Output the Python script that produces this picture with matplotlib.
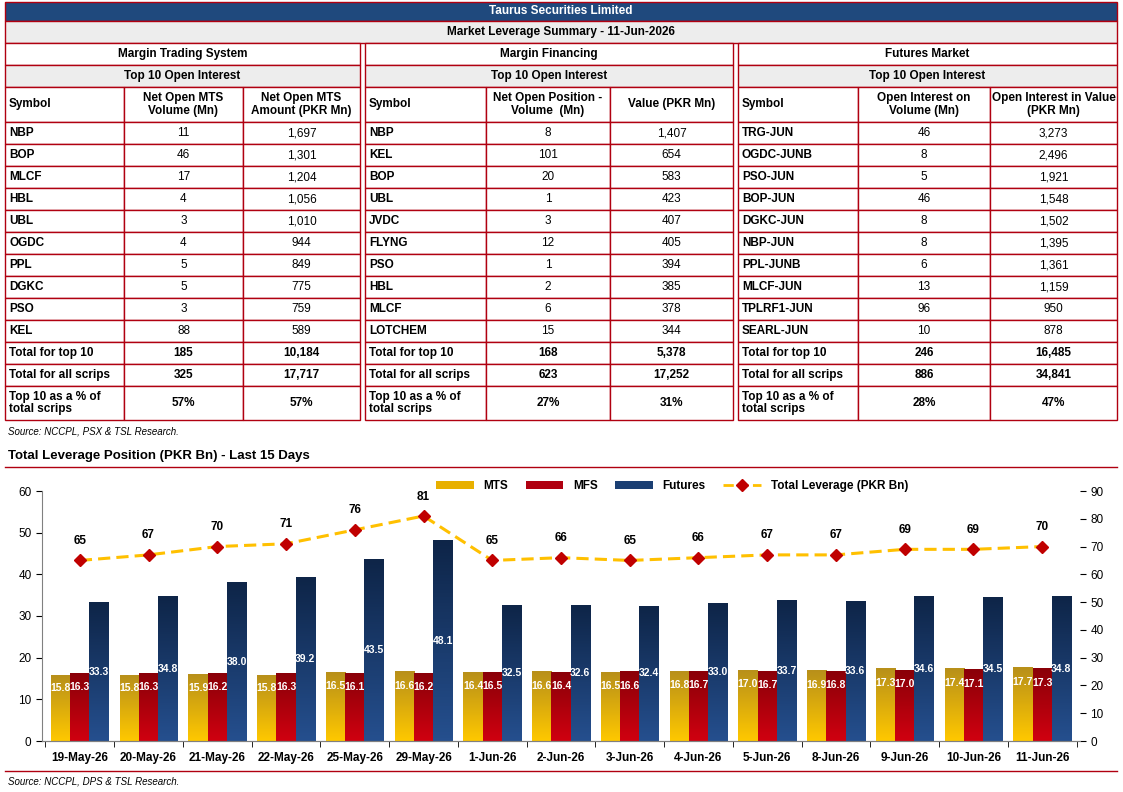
import numpy as np
import matplotlib.pyplot as plt
from matplotlib.patches import Rectangle
from matplotlib.colors import LinearSegmentedColormap
from matplotlib.lines import Line2D

plt.rcParams['font.family'] = ['Liberation Sans', 'DejaVu Sans']

# ---- table data ----
mts_sym = ["NBP", "BOP", "MLCF", "HBL", "UBL", "OGDC", "PPL", "DGKC", "PSO", "KEL"]
mts_vol = ["11", "46", "17", "4", "3", "4", "5", "5", "3", "88"]
mts_amt = ["1,697", "1,301", "1,204", "1,056", "1,010", "944", "849", "775", "759", "589"]
mts_tot = [["185", "10,184"], ["325", "17,717"], ["57%", "57%"]]

mf_sym = ["NBP", "KEL", "BOP", "UBL", "JVDC", "FLYNG", "PSO", "HBL", "MLCF", "LOTCHEM"]
mf_vol = ["8", "101", "20", "1", "3", "12", "1", "2", "6", "15"]
mf_val = ["1,407", "654", "583", "423", "407", "405", "394", "385", "378", "344"]
mf_tot = [["168", "5,378"], ["623", "17,252"], ["27%", "31%"]]

fut_sym = ["TRG-JUN", "OGDC-JUNB", "PSO-JUN", "BOP-JUN", "DGKC-JUN", "NBP-JUN", "PPL-JUNB",
           "MLCF-JUN", "TPLRF1-JUN", "SEARL-JUN"]
fut_vol = ["46", "8", "5", "46", "8", "8", "6", "13", "96", "10"]
fut_val = ["3,273", "2,496", "1,921", "1,548", "1,502", "1,395", "1,361", "1,159", "950", "878"]
fut_tot = [["246", "16,485"], ["886", "34,841"], ["28%", "47%"]]

tot_labels = ["Total for top 10", "Total for all scrips", "Top 10 as a % of\ntotal scrips"]

# ---- chart data ----
dates = ["19-May-26", "20-May-26", "21-May-26", "22-May-26", "25-May-26", "29-May-26", "1-Jun-26",
         "2-Jun-26", "3-Jun-26", "4-Jun-26", "5-Jun-26", "8-Jun-26", "9-Jun-26", "10-Jun-26", "11-Jun-26"]
mts = [15.8, 15.8, 15.9, 15.8, 16.5, 16.6, 16.4, 16.6, 16.5, 16.8, 17.0, 16.9, 17.3, 17.4, 17.7]
mfs = [16.3, 16.3, 16.2, 16.3, 16.1, 16.2, 16.5, 16.4, 16.6, 16.7, 16.7, 16.8, 17.0, 17.1, 17.3]
futures = [33.3, 34.8, 38.0, 39.2, 43.5, 48.1, 32.5, 32.6, 32.4, 33.0, 33.7, 33.6, 34.6, 34.5, 34.8]
total = [65, 67, 70, 71, 76, 81, 65, 66, 65, 66, 67, 67, 69, 69, 70]

W, H = 1123, 792
fig = plt.figure(figsize=(W / 100, H / 100), dpi=100)
bg = fig.add_axes([0, 0, 1, 1])
bg.set_xlim(0, W)
bg.set_ylim(H, 0)
bg.axis('off')

RED = "#B00010"
GRAY = "#EDEDED"


def cell(x0, y0, x1, y1, text="", fc="white", bold=False, ha="center", color="black", size=8.5):
    bg.add_patch(Rectangle((x0, y0), x1 - x0, y1 - y0, fc=fc, ec=RED, lw=1.0))
    if text:
        tx = (x0 + x1) / 2 if ha == "center" else x0 + 4
        bg.text(tx, (y0 + y1) / 2, text, ha=ha, va="center", fontsize=size, color=color,
                fontweight="bold" if bold else "normal", linespacing=1.1)


cell(5, 2, 1117, 21, "Taurus Securities Limited", fc="#1F497D", bold=True, color="white")
cell(5, 21, 1117, 43, "Market Leverage Summary - 11-Jun-2026", fc=GRAY, bold=True)

panels = [
    ([5, 124, 243, 360], "Margin Trading System",
     ["Symbol", "Net Open MTS\nVolume (Mn)", "Net Open MTS\nAmount (PKR Mn)"], mts_sym, mts_vol, mts_amt, mts_tot),
    ([365, 486, 610, 733], "Margin Financing",
     ["Symbol", "Net Open Position -\nVolume  (Mn)", "Value (PKR Mn)"], mf_sym, mf_vol, mf_val, mf_tot),
    ([738, 858, 990, 1117], "Futures Market",
     ["Symbol", "Open Interest on\nVolume (Mn)", "Open Interest in Value\n(PKR Mn)"], fut_sym, fut_vol, fut_val, fut_tot),
]
for xs, name, heads, syms, c1, c2, tots in panels:
    cell(xs[0], 43, xs[3], 65, name, bold=True)
    cell(xs[0], 65, xs[3], 87, "Top 10 Open Interest", fc=GRAY, bold=True)
    for j in range(3):
        cell(xs[j], 87, xs[j + 1], 122, heads[j], bold=True, ha="left" if j == 0 else "center")
    for i in range(10):
        y0 = 122 + 22 * i
        cell(xs[0], y0, xs[1], y0 + 22, syms[i], ha="left", bold=True)
        cell(xs[1], y0, xs[2], y0 + 22, c1[i])
        cell(xs[2], y0, xs[3], y0 + 22, c2[i])
    rows = [(342, 364), (364, 386), (386, 420)]
    for k, (y0, y1) in enumerate(rows):
        cell(xs[0], y0, xs[1], y1, tot_labels[k], ha="left", bold=True)
        cell(xs[1], y0, xs[2], y1, tots[k][0], bold=True)
        cell(xs[2], y0, xs[3], y1, tots[k][1], bold=True)

bg.text(8, 431, "Source: NCCPL, PSX & TSL Research.", fontsize=7, style="italic", va="center")
bg.text(8, 456, "Total Leverage Position (PKR Bn) - Last 15 Days", fontsize=9.5, fontweight="bold", va="center")
bg.plot([5, 1117], [467, 467], color=RED, lw=1)
bg.plot([5, 1117], [771, 771], color=RED, lw=1)
bg.text(8, 782, "Source: NCCPL, DPS & TSL Research.", fontsize=7, style="italic", va="center")

# ---- chart ----
ax = fig.add_axes([42 / W, 1 - 741 / H, (1080 - 42) / W, 250 / H])
ax2 = ax.twinx()
x = np.arange(len(dates))
bw = 0.28
cmaps = [
    LinearSegmentedColormap.from_list("m", ["#FFC800", "#B8901A"]),
    LinearSegmentedColormap.from_list("f", ["#D00010", "#8A0008"]),
    LinearSegmentedColormap.from_list("u", ["#254F8E", "#0E2548"]),
]
grad = np.linspace(0, 1, 64).reshape(-1, 1)
for k, vals in enumerate([mts, mfs, futures]):
    xpos = x + (k - 1) * bw
    for xi, v in zip(xpos, vals):
        ax.imshow(grad, extent=[xi - bw / 2, xi + bw / 2, 0, v], origin="lower", aspect="auto",
                  cmap=cmaps[k], zorder=2)
        ly = v / 2 if k == 2 else v * 0.8
        ax.text(xi, ly, f"{v:.1f}", color="white", fontsize=7.5, fontweight="bold",
                ha="center", va="center", zorder=4)

ax.set_xlim(-0.55, len(dates) - 0.45)
ax.set_ylim(0, 60)
ax.set_yticks(range(0, 61, 10))
ax.set_xticks(x)
ax.set_xticklabels(dates, fontweight="bold", fontsize=8.5)
ax.set_xticks(np.arange(-0.5, len(dates), 1), minor=True)
ax.tick_params(axis="x", which="major", length=0, pad=8)
ax.tick_params(axis="x", which="minor", length=4)
ax.tick_params(axis="y", labelsize=8.5, length=4)
for s in ["top", "right"]:
    ax.spines[s].set_visible(False)
    ax2.spines[s].set_visible(False)
ax2.spines["left"].set_visible(False)
for a in (ax, ax2):
    for s in a.spines.values():
        s.set_color("#808080")

ax2.plot(x, total, color="#FFC000", lw=2.2, ls=(0, (4, 2)), zorder=5)
ax2.plot(x, total, ls="none", marker="D", ms=6.5, mfc="#C00000", mec="#C00000", zorder=6)
for xi, t in zip(x, total):
    ax2.text(xi, t + 7, str(t), ha="center", va="center", fontsize=8.5, fontweight="bold")
ax2.set_ylim(0, 90)
ax2.set_yticks(range(0, 91, 10))
ax2.tick_params(axis="y", labelsize=8.5, length=4)

handles = [Rectangle((0, 0), 1, 1, fc="#E8B000"), Rectangle((0, 0), 1, 1, fc="#B00010"),
           Rectangle((0, 0), 1, 1, fc="#1B3F73"),
           Line2D([], [], color="#FFC000", lw=2, ls="--", marker="D", mfc="#C00000", mec="#C00000")]
fig.legend(handles, ["MTS", "MFS", "Futures", "Total Leverage (PKR Bn)"], ncol=4, frameon=False,
           loc="center", bbox_to_anchor=(672 / W, 1 - 486 / H), fontsize=8.5, handlelength=3.2,
           handleheight=0.6, columnspacing=1.5, prop={"weight": "bold", "size": 8.5})

fig.savefig("out.png", dpi=100)
